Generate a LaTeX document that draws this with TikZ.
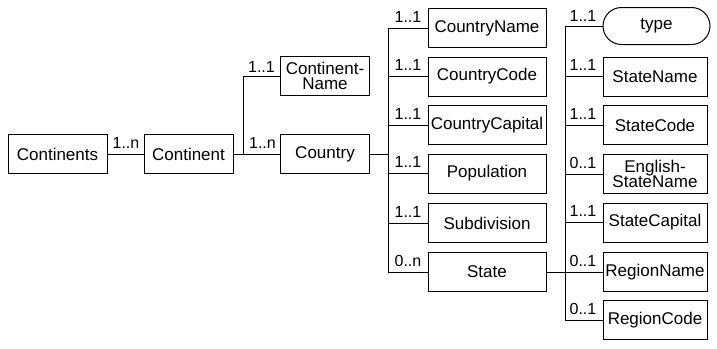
\documentclass[tikz,border=0pt]{standalone}
\usepackage{fontspec}
\setmainfont{Liberation Sans}
\usetikzlibrary{shapes.misc}
\begin{document}
\begin{tikzpicture}[x=1pt,y=-1pt,
  every node/.style={font=\fontsize{17}{15.5}\selectfont},
  elem/.style={draw, line width=1pt, inner sep=0pt, minimum height=39pt, align=center},
  mid/.style={elem, minimum width=89pt},
  col2/.style={elem, minimum width=118pt},
  col3/.style={elem, minimum width=104pt},
  attr/.style={draw, line width=1pt, rounded rectangle, inner sep=0pt,
               minimum width=107pt, minimum height=37pt},
  link/.style={line width=1pt},
  card/.style={anchor=base east, inner sep=0pt, font=\fontsize{16}{16}\selectfont}]
\useasboundingbox (0,0) rectangle (717,348);

% root chain
\node[elem, minimum width=99pt] (continents) at (57.5,154) {Continents};
\node[mid] (continent) at (188.5,154) {Continent};
\node[mid] (country) at (325,154) {Country};
\node[mid] (contname) at (325,76) {Continent-\\Name};

% country children
\node[col2] (cname) at (487,28) {CountryName};
\node[col2] (ccode) at (487,76.5) {CountryCode};
\node[col2] (ccap) at (487,125) {CountryCapital};
\node[col2] (pop) at (487,173.5) {Population};
\node[col2] (subdiv) at (487,223) {Subdivision};
\node[col2] (state) at (487,272) {State};

% state children
\node[attr] (type) at (656.5,26) {type};
\node[col3] (sname) at (655,76.5) {StateName};
\node[col3] (scode) at (655,125) {StateCode};
\node[col3] (sename) at (655,174) {English-\\StateName};
\node[col3] (scap) at (655,222.5) {StateCapital};
\node[col3] (rname) at (655,272) {RegionName};
\node[col3] (rcode) at (655,320) {RegionCode};

% junction points of the tree lines
\coordinate (j1) at (243,154);
\coordinate (j2) at (388,154);
\coordinate (j3) at (565,272);

% connectors
\draw[link] (continents) -- (continent);
\draw[link] (continent) -- (country);
\draw[link] (j1) |- (contname.west);
\draw[link] (country) -- (j2);
\foreach \c in {cname,ccode,ccap,pop,subdiv,state}
  \draw[link] (j2) |- (\c.west);
\draw[link] (state) -- (rname);
\draw[link] (j3) |- (type.west);
\foreach \c in {sname,scode,sename,scap,rcode}
  \draw[link] (j3) |- (\c.west);

% cardinalities
\node[card] at ([xshift=-4pt,yshift=6pt]continent.west) {1..n};
\node[card] at ([xshift=-4pt,yshift=6pt]country.west) {1..n};
\node[card] at ([xshift=-5pt,yshift=4pt]contname.west) {1..1};
\foreach \c/\t in {cname/1..1,ccode/1..1,ccap/1..1,pop/1..1,subdiv/1..1,state/0..n}
  \node[card] at ([xshift=-6pt,yshift=6pt]\c.west) {\t};
\node[card] at ([xshift=-6pt,yshift=5pt]type.west) {1..1};
\foreach \c/\t in {sname/1..1,scode/1..1,sename/0..1,scap/1..1,rname/0..1,rcode/0..1}
  \node[card] at ([xshift=-6pt,yshift=6pt]\c.west) {\t};
\end{tikzpicture}
\end{document}
